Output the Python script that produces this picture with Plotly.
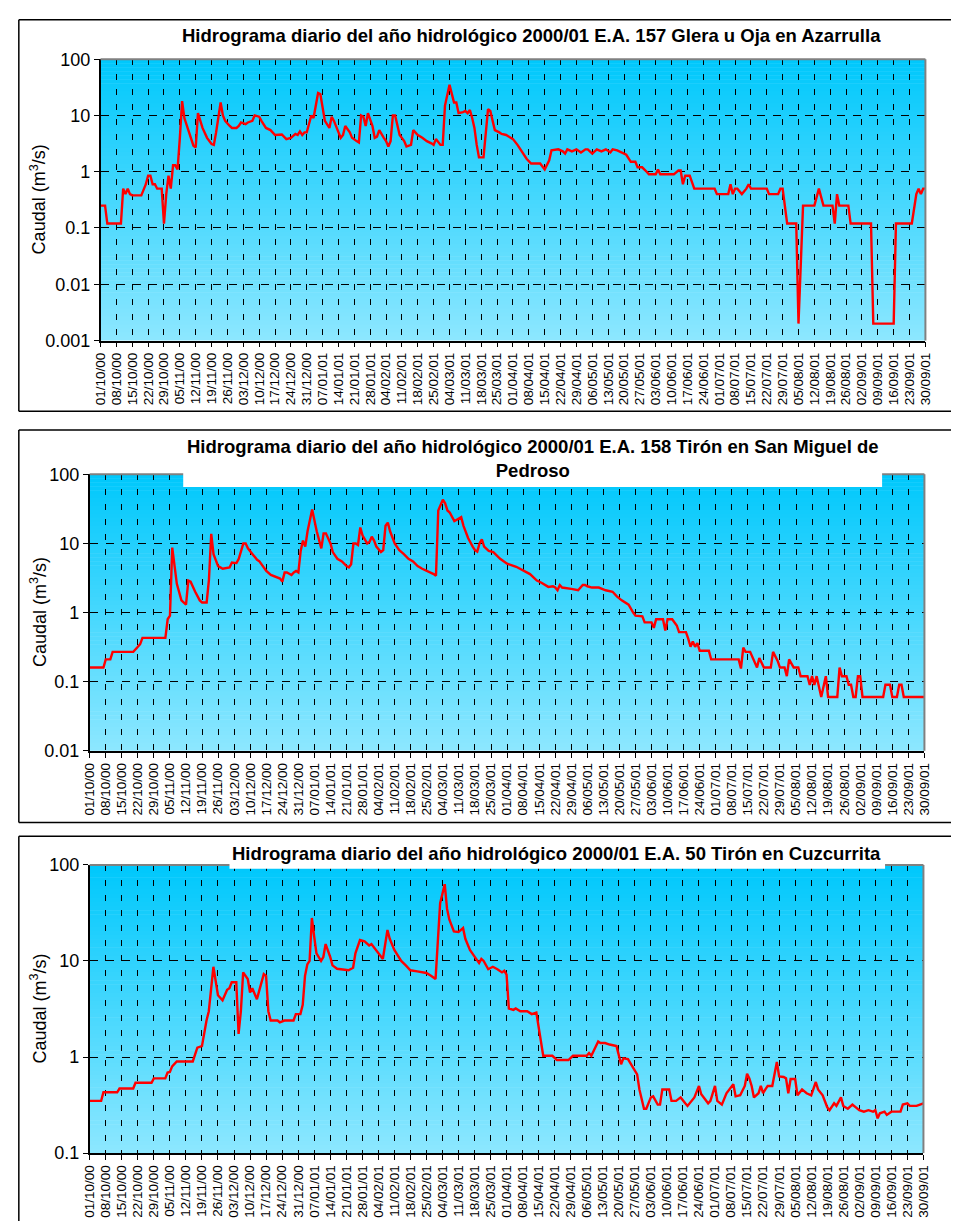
import pandas as pd
import plotly.graph_objects as go

# ---------------- data ----------------
START = "2000-10-01"
END = "2001-09-30"

TICK_LABELS = [
    "01/10/00", "08/10/00", "15/10/00", "22/10/00", "29/10/00", "05/11/00", "12/11/00",
    "19/11/00", "26/11/00", "03/12/00", "10/12/00", "17/12/00", "24/12/00", "31/12/00",
    "07/01/01", "14/01/01", "21/01/01", "28/01/01", "04/02/01", "11/02/01", "18/02/01",
    "25/02/01", "04/03/01", "11/03/01", "18/03/01", "25/03/01", "01/04/01", "08/04/01",
    "15/04/01", "22/04/01", "29/04/01", "06/05/01", "13/05/01", "20/05/01", "27/05/01",
    "03/06/01", "10/06/01", "17/06/01", "24/06/01", "01/07/01", "08/07/01", "15/07/01",
    "22/07/01", "29/07/01", "05/08/01", "12/08/01", "19/08/01", "26/08/01", "02/09/01",
    "09/09/01", "16/09/01", "23/09/01", "30/09/01",
]

TITLES = [
    "Hidrograma diario del año hidrológico 2000/01 E.A. 157 Glera u Oja en Azarrulla",
    "Hidrograma diario del año hidrológico 2000/01 E.A. 158 Tirón en San Miguel de<br>Pedroso",
    "Hidrograma diario del año hidrológico 2000/01 E.A. 50 Tirón en Cuzcurrita",
]
Y_TITLE = "Caudal (m<sup>3</sup>/s)"

# E.A. 157 Glera u Oja en Azarrulla : day offset from 01/10/00, flow m3/s
days_157 = [0, 2, 3, 9, 10, 11, 12, 13, 14, 18, 20, 21, 22, 23, 24, 25, 27, 28, 29, 30, 31, 32, 33, 34,
            35, 36, 37, 39, 41, 42, 43, 45, 47, 49, 50, 51, 53, 54, 55, 57, 58, 60, 61, 62, 64, 65, 67,
            68, 70, 71, 73, 75, 77, 80, 81, 82, 84, 86, 87, 88, 89, 90, 91, 93, 94, 96, 97, 98, 99, 101,
            102, 103, 104, 106, 107, 108, 110, 111, 113, 114, 115, 116, 117, 118, 120, 121, 122, 123, 125,
            126, 127, 128, 129, 130, 132, 133, 134, 135, 136, 137, 138, 140, 142, 144, 146, 147, 148, 149,
            150, 151, 152, 154, 155, 156, 157, 158, 160, 161, 162, 163, 164, 165, 166, 167, 169, 171, 172,
            174, 176, 177, 179, 182, 184, 186, 188, 190, 194, 196, 198, 199, 202, 204, 205, 206, 208, 210,
            212, 214, 215, 217, 219, 221, 223, 225, 226, 228, 230, 232, 234, 236, 237, 239, 241, 242, 245,
            246, 247, 253, 255, 256, 257, 258, 260, 262, 271, 272, 277, 278, 279, 280, 281, 283, 285, 286,
            287, 294, 295, 299, 300, 301, 303, 307, 308, 310, 315, 317, 319, 323, 324, 325, 326, 330, 331,
            340, 341, 350, 351, 358, 360, 361, 362, 363, 364]
flow_157 = [0.25, 0.25, 0.12, 0.12, 0.5, 0.4, 0.5, 0.4, 0.38, 0.38, 0.6, 0.85, 0.85, 0.6, 0.6, 0.5, 0.5,
            0.12, 0.4, 0.85, 0.5, 1.3, 1.3, 1.1, 4, 18, 9, 5, 2.9, 2.7, 11, 6, 4, 3.1, 3, 5, 17, 10, 8,
            6.5, 6, 6, 6.5, 7.5, 7, 7.5, 8, 10, 9.5, 8, 6, 5.5, 4.5, 4.6, 4.2, 3.8, 4, 4.7, 4.5, 5.2, 4.5,
            5, 5, 10, 9, 25, 24, 15, 8, 6, 9.5, 8, 6.5, 4, 4.5, 6.5, 5, 4, 3.5, 3.3, 10, 9.5, 6.5, 11, 6.5,
            4, 4.2, 5.5, 4, 3.5, 2.8, 3.5, 10, 10, 4.5, 4, 3.5, 2.8, 2.9, 3, 5.5, 4.5, 4, 3.5, 3.2, 3.0, 3.8,
            3.3, 3, 3, 15, 35, 25, 17, 17, 11, 11.5, 12, 11, 12.5, 9, 6, 3, 1.8, 1.8, 13, 12, 5.5, 5, 4.7,
            4.5, 3.8, 3, 2.2, 1.7, 1.4, 1.4, 1.1, 1.6, 2.4, 2.5, 2.3, 2.1, 2.5, 2.3, 2.5, 2.2, 2.5, 2.5, 2.1,
            2.5, 2.3, 2.5, 2.2, 2.5, 2.4, 2.2, 2.0, 1.5, 1.5, 1.2, 1.2, 1.0, 0.9, 0.9, 1.1, 0.9, 0.9, 1.05,
            1.05, 0.6, 0.85, 0.85, 0.5, 0.5, 0.4, 0.4, 0.6, 0.4, 0.5, 0.5, 0.4, 0.5, 0.6, 0.5, 0.5, 0.4, 0.4,
            0.5, 0.5, 0.12, 0.12, 0.002, 0.25, 0.25, 0.5, 0.25, 0.25, 0.12, 0.4, 0.25, 0.25, 0.12, 0.12,
            0.002, 0.002, 0.12, 0.12, 0.4, 0.5, 0.4, 0.5, 0.5]

# E.A. 158 Tirón en San Miguel de Pedroso
days_158 = [0, 6, 7, 9, 10, 19, 21, 22, 23, 33, 34, 35, 36, 37, 38, 40, 42, 43, 44, 46, 48, 49, 51, 52,
            53, 54, 56, 58, 60, 61, 62, 64, 65, 67, 68, 69, 71, 73, 74, 76, 77, 79, 81, 83, 84, 85, 86, 87,
            88, 89, 90, 91, 92, 93, 94, 95, 97, 99, 101, 102, 103, 105, 106, 108, 110, 112, 113, 114, 115,
            116, 117, 118, 119, 121, 122, 123, 124, 125, 127, 128, 129, 130, 131, 133, 135, 137, 139, 141,
            143, 145, 147, 149, 150, 151, 152, 154, 155, 156, 157, 159, 160, 161, 162, 163, 165, 167, 168,
            169, 170, 171, 172, 174, 176, 179, 182, 186, 187, 189, 192, 195, 197, 200, 202, 203, 204, 205,
            206, 210, 212, 213, 215, 216, 217, 219, 222, 225, 228, 230, 232, 235, 237, 238, 241, 242, 245,
            246, 247, 250, 251, 252, 254, 256, 257, 260, 261, 262, 263, 264, 265, 266, 270, 271, 283, 284,
            285, 286, 288, 290, 291, 292, 294, 297, 298, 300, 301, 303, 304, 305, 307, 309, 310, 313, 314,
            315, 316, 317, 319, 321, 322, 326, 327, 328, 330, 331, 332, 333, 334, 335, 336, 337, 346, 347,
            349, 350, 352, 353, 354, 355, 364]
flow_158 = [0.16, 0.16, 0.21, 0.21, 0.27, 0.27, 0.32, 0.35, 0.43, 0.43, 0.8, 0.9, 8.7, 4.5, 2.6, 1.5, 1.3,
            2.9, 2.8, 2, 1.5, 1.4, 1.4, 3, 13.8, 7, 4.7, 4.3, 4.4, 4.5, 5.3, 5.2, 6, 10, 10, 8.5, 7, 5.8,
            5.5, 4.5, 4, 3.5, 3.3, 3.1, 2.8, 3.8, 3.8, 3.6, 3.5, 3.8, 4, 3.8, 7.8, 11, 9, 15, 31, 15, 8.5,
            14, 14, 10, 7.5, 6, 5.5, 4.7, 4.5, 5, 10, 10, 9.5, 17, 13, 10, 10.5, 12.5, 11, 9, 7.5, 8, 18,
            20, 15, 10, 8, 7, 6, 5.5, 4.7, 4.3, 4, 3.8, 3.6, 3.4, 30, 43, 38, 30, 28, 21, 22, 23, 24, 18,
            12, 9, 8, 7.6, 10, 11.5, 9, 7.8, 7.5, 6, 5.1, 4.6, 4.4, 4, 3.6, 2.9, 2.7, 2.35, 2.4, 2.3, 2.1,
            2.5, 2.3, 2.2, 2.1, 2.1, 2.5, 2.5, 2.4, 2.3, 2.3, 2.1, 2.0, 1.7, 1.5, 1.3, 1.0, 0.9, 0.88,
            0.72, 0.72, 0.6, 0.8, 0.8, 0.55, 0.8, 0.8, 0.65, 0.52, 0.52, 0.42, 0.32, 0.38, 0.32, 0.36,
            0.28, 0.28, 0.21, 0.21, 0.155, 0.31, 0.27, 0.27, 0.19, 0.16, 0.22, 0.16, 0.16, 0.27, 0.2, 0.16,
            0.16, 0.12, 0.21, 0.16, 0.16, 0.12, 0.12, 0.09, 0.12, 0.09, 0.12, 0.06, 0.12, 0.06, 0.06, 0.16,
            0.12, 0.12, 0.09, 0.09, 0.06, 0.06, 0.12, 0.12, 0.06, 0.06, 0.09, 0.09, 0.06, 0.06, 0.09, 0.09,
            0.06, 0.06]

# E.A. 50 Tirón en Cuzcurrita
days_50 = [0, 5, 6, 12, 13, 19, 20, 27, 28, 33, 34, 35, 36, 38, 45, 47, 49, 50, 51, 52, 54, 56, 58, 60,
           61, 62, 64, 65, 66, 67, 69, 70, 71, 73, 75, 76, 77, 78, 79, 82, 83, 85, 89, 90, 92, 93, 94, 95,
           96, 97, 98, 99, 101, 102, 103, 104, 105, 106, 108, 113, 115, 116, 118, 120, 122, 123, 125, 127,
           128, 130, 131, 133, 135, 136, 138, 140, 143, 147, 149, 151, 153, 155, 156, 157, 159, 161, 163,
           164, 166, 168, 170, 171, 172, 174, 176, 178, 180, 181, 182, 183, 185, 186, 188, 191, 193, 195,
           196, 197, 198, 202, 204, 209, 211, 217, 218, 219, 220, 221, 222, 223, 225, 227, 230, 232, 233,
           235, 237, 239, 240, 242, 243, 245, 246, 248, 249, 250, 253, 254, 256, 258, 260, 261, 264, 266,
           267, 270, 271, 273, 274, 276, 278, 281, 282, 284, 286, 287, 288, 289, 290, 292, 293, 294, 295,
           296, 298, 300, 301, 303, 304, 305, 306, 308, 309, 311, 313, 315, 317, 318, 320, 322, 323, 324,
           325, 326, 328, 329, 331, 333, 335, 336, 338, 340, 342, 343, 344, 345, 347, 348, 350, 352, 354,
           355, 357, 358, 361, 364]
flow_50 = [0.35, 0.35, 0.43, 0.43, 0.47, 0.47, 0.54, 0.54, 0.6, 0.6, 0.69, 0.7, 0.8, 0.9, 0.9, 1.25, 1.3,
           1.8, 2.4, 3, 8.7, 4.4, 3.9, 5, 5.2, 6, 6, 1.74, 3, 7.6, 6.5, 4.7, 5.2, 4, 6, 7.3, 7, 3, 2.4, 2.4,
           2.3, 2.4, 2.4, 2.8, 2.8, 3.5, 7, 9.2, 10, 28, 18, 12, 10, 11, 15, 13, 11, 9, 8.3, 8, 8.5, 12,
           16.5, 16, 14.5, 15, 13, 11, 10.5, 21, 17, 13, 11, 10, 9, 8, 7.8, 7.5, 7, 6.5, 40, 63, 35, 27,
           20.3, 20, 22, 17, 13, 11, 9.5, 10.5, 10, 8.2, 8.7, 8.2, 7.6, 7.9, 7.2, 3.2, 3.1, 3.2, 3.0, 3.0,
           2.8, 2.9, 2.0, 1.4, 1.03, 1.03, 0.93, 0.93, 1.03, 1.03, 1.1, 1.03, 1.15, 1.29, 1.45, 1.4, 1.4,
           1.35, 1.3, 0.84, 0.97, 0.95, 0.8, 0.66, 0.46, 0.29, 0.29, 0.38, 0.39, 0.32, 0.32, 0.46, 0.46,
           0.35, 0.35, 0.38, 0.33, 0.31, 0.38, 0.5, 0.41, 0.33, 0.35, 0.5, 0.35, 0.32, 0.42, 0.52, 0.39,
           0.4, 0.5, 0.67, 0.6, 0.5, 0.38, 0.42, 0.5, 0.42, 0.46, 0.5, 0.5, 0.89, 0.63, 0.62, 0.6, 0.42,
           0.59, 0.59, 0.4, 0.46, 0.42, 0.4, 0.55, 0.46, 0.4, 0.3, 0.28, 0.3, 0.33, 0.31, 0.38, 0.31, 0.29,
           0.32, 0.29, 0.28, 0.27, 0.28, 0.27, 0.28, 0.23, 0.26, 0.27, 0.25, 0.27, 0.27, 0.27, 0.32, 0.33,
           0.31, 0.31, 0.33]

Y_TICKS_1 = [0.001, 0.01, 0.1, 1, 10, 100]
Y_LABELS_1 = ["0.001", "0.01", "0.1", "1", "10", "100"]
Y_TICKS_2 = [0.01, 0.1, 1, 10, 100]
Y_LABELS_2 = ["0.01", "0.1", "1", "10", "100"]
Y_TICKS_3 = [0.1, 1, 10, 100]
Y_LABELS_3 = ["0.1", "1", "10", "100"]

# ---------------- layout helpers ----------------
W, H = 958, 1231
FONT = "Liberation Sans, Arial, sans-serif"


def fx(p):
    return min(max(p / W, 0.0), 1.0)


def fy(p):
    return min(max(1 - p / H, 0.0), 1.0)


start = pd.Timestamp(START)
tick_dates = pd.to_datetime(TICK_LABELS, format="%d/%m/%y")

# frame = (left, top, bottom or None)
panels = [
    dict(days=days_157, flow=flow_157, title=TITLES[0], xdom=(94, 932), ydom=(50, 336),
         yr=(-3, 2), yt=Y_TICKS_1, yl=Y_LABELS_1, frame=(11, 10, 408),
         title_xy=(532, 26), white=None),
    dict(days=days_158, flow=flow_158, title=TITLES[1], xdom=(83, 931), ydom=(472, 753),
         yr=(-2, 2), yt=Y_TICKS_2, yl=Y_LABELS_2, frame=(11, 427, 826),
         title_xy=(533, 456), white=(178, 432, 888, 485)),
    dict(days=days_50, flow=flow_50, title=TITLES[2], xdom=(83, 930), ydom=(869, 1162),
         yr=(-1, 2), yt=Y_TICKS_3, yl=Y_LABELS_3, frame=(11, 840, None),
         title_xy=(557, 857), white=(225, 845, 891, 873)),
]

fig = go.Figure()
shapes = []
annotations = []

TOP = (0, 200, 252)
BOT = (140, 231, 255)
NB = 70


def pline(xa, ya, xb, yb, color="black", width=1.5):
    return dict(type="line", xref="paper", yref="paper", x0=fx(xa), x1=fx(xb),
                y0=fy(ya), y1=fy(yb), line=dict(color=color, width=width), layer="above")


for i, p in enumerate(panels, start=1):
    xa = "x" if i == 1 else f"x{i}"
    ya = "y" if i == 1 else f"y{i}"
    dates = start + pd.to_timedelta(p["days"], unit="D")
    fig.add_trace(go.Scatter(x=dates, y=p["flow"], mode="lines",
                             line=dict(color="#ff0000", width=2.4),
                             xaxis=xa, yaxis=ya, showlegend=False, hoverinfo="x+y"))

    xkey = "xaxis" if i == 1 else f"xaxis{i}"
    ykey = "yaxis" if i == 1 else f"yaxis{i}"
    fig.layout[xkey] = dict(
        domain=[fx(p["xdom"][0]), fx(p["xdom"][1])], anchor=ya, type="date",
        range=[START, END], tickmode="array", tickvals=tick_dates, ticktext=TICK_LABELS,
        tickangle=-90, tickfont=dict(family=FONT, size=13.5, color="black"),
        ticks="outside", ticklen=5, tickcolor="black", showline=True, linecolor="black",
        linewidth=1.5, showgrid=True, gridcolor="black", gridwidth=1.2, griddash="6px,9px",
        fixedrange=True,
    )
    fig.layout[ykey] = dict(
        domain=[fy(p["ydom"][1]), fy(p["ydom"][0])], anchor=xa, type="log",
        range=list(p["yr"]), tickmode="array", tickvals=p["yt"], ticktext=p["yl"],
        tickfont=dict(family=FONT, size=18, color="black"), ticks="outside", ticklen=5,
        tickcolor="black", showline=True, linecolor="black", linewidth=1.5,
        showgrid=True, gridcolor="black", gridwidth=1.2, griddash="8px,8px", fixedrange=True,
    )

    # gradient background bands
    for b in range(NB):
        t = b / (NB - 1)
        c = tuple(int(round(TOP[k] + (BOT[k] - TOP[k]) * t)) for k in range(3))
        y1 = 1 - b / NB
        y0 = 1 - (b + 1) / NB - 0.002
        shapes.append(dict(type="rect", xref=f"{xa} domain", yref=f"{ya} domain",
                           x0=0, x1=1, y0=max(y0, 0), y1=y1, layer="below",
                           line=dict(width=0), fillcolor="rgb(%d,%d,%d)" % c))

    # plot area top/right border (gray)
    shapes.append(pline(p["xdom"][0], p["ydom"][0], p["xdom"][1], p["ydom"][0], "#808080", 2))
    shapes.append(pline(p["xdom"][1], p["ydom"][0], p["xdom"][1], p["ydom"][1], "#808080", 2))

    # white title box over the plot area
    if p["white"]:
        a, b_, c_, d = p["white"]
        shapes.append(dict(type="rect", xref="paper", yref="paper", x0=fx(a), x1=fx(c_),
                           y0=fy(d), y1=fy(b_), fillcolor="white", line=dict(width=0),
                           layer="above"))

    # outer frame (kept inside the page)
    fl, ft, fb = p["frame"]
    shapes.append(pline(fl, ft, W, ft))
    shapes.append(pline(fl, ft, fl, fb if fb is not None else H))
    if fb is not None:
        shapes.append(pline(fl, fb, W, fb))

    # title
    tx, ty = p["title_xy"]
    annotations.append(dict(text="<b>" + p["title"] + "</b>", x=fx(tx), y=fy(ty),
                            xref="paper", yref="paper", xanchor="center", yanchor="middle",
                            showarrow=False, align="center",
                            font=dict(family=FONT, size=18.5, color="black")))
    # y axis title
    annotations.append(dict(text=Y_TITLE, x=fx(31), y=fy((p["ydom"][0] + p["ydom"][1]) / 2),
                            xref="paper", yref="paper", xanchor="center", yanchor="middle",
                            textangle=-90, showarrow=False,
                            font=dict(family=FONT, size=18, color="black")))

fig.update_layout(
    width=W, height=H, autosize=False,
    margin=dict(l=0, r=0, t=0, b=0, pad=0),
    paper_bgcolor="white", plot_bgcolor="rgba(0,0,0,0)",
    shapes=shapes, annotations=annotations, showlegend=False,
    font=dict(family=FONT, color="black"),
)

fig.write_html(
    "out.html",
    config={"displayModeBar": False},
    post_script="document.body.style.margin='0';document.body.style.overflow='hidden';",
)
